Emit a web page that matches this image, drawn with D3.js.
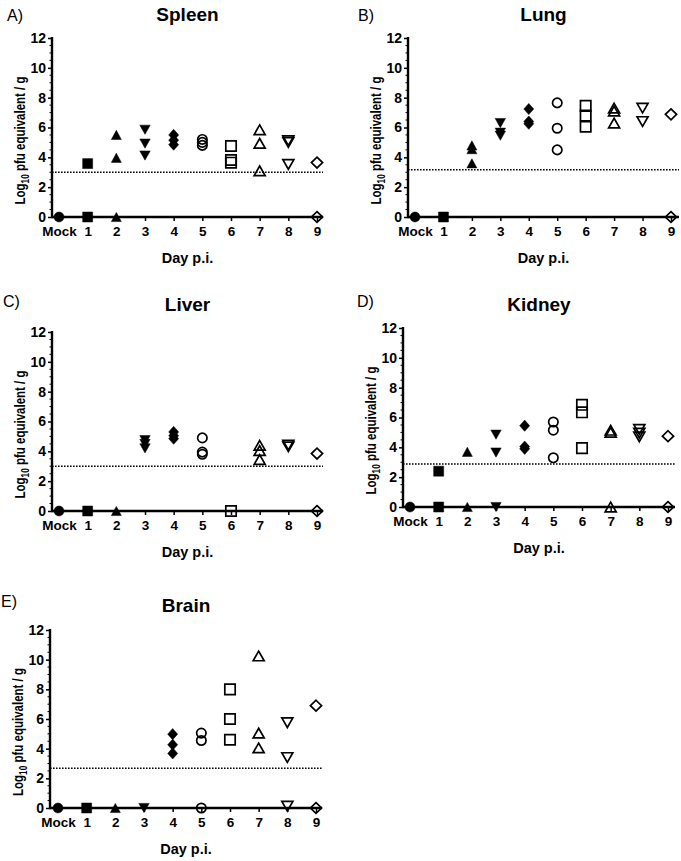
<!DOCTYPE html>
<html>
<head>
<meta charset="utf-8">
<script src="https://cdn.jsdelivr.net/npm/d3@7"></script>
<style>
  html, body { margin: 0; padding: 0; background: #fff; }
  svg { display: block; }
  text { font-family: "Liberation Sans", Arial, sans-serif; fill: #000; }
</style>
</head>
<body>
<svg id="chart" width="681" height="861"></svg>
<script>
// ---------------- data ----------------
const categories = ["Mock", "1", "2", "3", "4", "5", "6", "7", "8", "9"];
const yTicks = [0, 2, 4, 6, 8, 10, 12];
const organs = ["Spleen", "Lung", "Liver", "Kidney", "Brain"];
const panelLetters = ["A)", "B)", "C)", "D)", "E)"];
const detectionLimits = [3.0, 3.17, 3.0, 2.88, 2.68];

// values per day (Mock, 1..9), log10 pfu equivalent / g
const spleen = [[0], [0, 3.58], [0, 3.97, 5.5], [4.12, 4.92, 5.85], [4.85, 5.15, 5.5],
  [4.8, 5.0, 5.2], [3.64, 3.82, 4.76], [3.1, 4.94, 5.85], [3.52, 5.0, 5.12], [0, 3.65]];
const lung = [[0], [0], [3.6, 4.55, 4.8], [5.45, 5.65, 6.3], [6.25, 6.4, 7.24],
  [4.5, 5.95, 7.65], [6.05, 6.8, 7.45], [6.3, 7.1, 7.3], [6.4, 7.3], [0, 6.88]];
const liver = [[0], [0], [0], [4.2, 4.5, 4.75], [4.85, 5.05, 5.3],
  [3.8, 3.95, 4.9], [0], [3.45, 4.05, 4.4], [4.3, 4.42], [0, 3.85]];
const kidney = [[0], [0, 2.4], [0, 3.7], [0, 3.65, 4.85], [3.9, 4.05, 5.45],
  [3.3, 5.15, 5.7], [3.95, 6.35, 6.85], [0, 5.0, 5.15], [4.7, 4.95, 5.2], [0, 4.75]];
const brain = [[0], [0], [0], [0], [3.68, 4.27, 4.98],
  [0, 4.55, 5.05], [4.6, 6.0, 8.0], [4.05, 5.05, 10.25], [0.12, 3.4, 5.75], [0, 6.9]];
const organData = [spleen, lung, liver, kidney, brain];

// marker per category
const markerShapes = ["circle", "square", "triUp", "triDown", "diamond",
  "circle", "square", "triUp", "triDown", "diamond"];
const markerFilled = [true, true, true, true, true, false, false, false, false, false];

// ---------------- layout ----------------
const layout = [
  { left: 52,  top: 38,  bottom: 217, first: 59,  last: 317, end: 323, letterX: 7,   letterY: 21,  titleY: 21 },
  { left: 408, top: 38,  bottom: 217, first: 415, last: 671, end: 679, letterX: 358, letterY: 21,  titleY: 21 },
  { left: 52,  top: 332, bottom: 511, first: 59,  last: 317, end: 323, letterX: 3,   letterY: 307, titleY: 311 },
  { left: 403, top: 328, bottom: 507, first: 410, last: 668, end: 675, letterX: 357, letterY: 307, titleY: 311 },
  { left: 50,  top: 630, bottom: 808, first: 58,  last: 316, end: 322, letterX: 1,   letterY: 607, titleY: 612 }
];

function shapePath(shape, filled) {
  if (shape === "circle") {
    const r = filled ? 5 : 4.7;
    return `M${-r},0A${r},${r} 0 1,0 ${r},0A${r},${r} 0 1,0 ${-r},0Z`;
  }
  if (shape === "square") {
    const h = filled ? 5 : 5.2;
    return `M${-h},${-h}H${h}V${h}H${-h}Z`;
  }
  if (shape === "triUp") {
    const w = filled ? 5 : 5.5, h = filled ? 4.6 : 4.8;
    return `M0,${-h}L${w},${h}L${-w},${h}Z`;
  }
  if (shape === "triDown") {
    const w = filled ? 5.2 : 5.5, h = filled ? 4.6 : 4.8;
    return `M0,${h}L${w},${-h}L${-w},${-h}Z`;
  }
  // diamond
  const w = filled ? 5 : 5.6, h = filled ? 5.6 : 5.4;
  return `M0,${-h}L${w},0L0,${h}L${-w},0Z`;
}

const svg = d3.select("#chart");

organs.forEach((organ, pi) => {
  const L = layout[pi];
  const g = svg.append("g");
  const x = d3.scalePoint().domain(categories).range([L.first, L.last]);
  const y = d3.scaleLinear().domain([0, 12]).range([L.bottom, L.top]);

  // panel letter & title
  g.append("text").attr("x", L.letterX).attr("y", L.letterY)
    .attr("font-size", 16).text(panelLetters[pi]);
  g.append("text").attr("x", (L.left + L.end) / 2).attr("y", L.titleY)
    .attr("text-anchor", "middle").attr("font-size", 19).attr("font-weight", "bold")
    .text(organ);

  // detection limit
  g.append("line")
    .attr("x1", L.left).attr("x2", L.end)
    .attr("y1", y(detectionLimits[pi])).attr("y2", y(detectionLimits[pi]))
    .attr("stroke", "#000").attr("stroke-width", 1.6)
    .attr("stroke-dasharray", "1.6,1.4");

  // y axis
  const yAxis = d3.axisLeft(y).tickValues(yTicks).tickSize(4).tickPadding(2)
    .tickFormat(d3.format("d"));
  const ya = g.append("g").attr("transform", `translate(${L.left},0)`).call(yAxis);
  ya.select(".domain").remove();
  ya.selectAll(".tick line").attr("stroke", "#000").attr("stroke-width", 1.5);
  ya.selectAll(".tick text").attr("font-size", 14).attr("font-weight", "bold")
    .attr("font-family", '"Liberation Sans", Arial, sans-serif').attr("fill", "#000");
  // minor ticks
  const minor = d3.range(0, 12.01, 0.5).filter(v => !yTicks.includes(v));
  g.append("g").selectAll("line").data(minor).join("line")
    .attr("x1", L.left - 2.5).attr("x2", L.left)
    .attr("y1", d => y(d)).attr("y2", d => y(d))
    .attr("stroke", "#000").attr("stroke-width", 1);
  g.append("line").attr("x1", L.left).attr("x2", L.left)
    .attr("y1", y(12) - 1).attr("y2", y(0) + 1.2)
    .attr("stroke", "#000").attr("stroke-width", 2.4);

  // x axis
  const xAxis = d3.axisBottom(x).tickSize(4).tickPadding(5);
  const xa = g.append("g").attr("transform", `translate(0,${L.bottom})`).call(xAxis);
  xa.select(".domain").remove();
  xa.selectAll(".tick line").attr("stroke", "#000").attr("stroke-width", 1.5);
  xa.selectAll(".tick text").attr("font-size", 13.5).attr("font-weight", "bold")
    .attr("font-family", '"Liberation Sans", Arial, sans-serif').attr("fill", "#000");
  g.append("line").attr("x1", L.left).attr("x2", L.end)
    .attr("y1", L.bottom).attr("y2", L.bottom)
    .attr("stroke", "#000").attr("stroke-width", 2.4);

  // axis titles
  g.append("text").attr("x", (L.left + L.end) / 2).attr("y", L.bottom + 46)
    .attr("text-anchor", "middle").attr("font-size", 14.5).attr("font-weight", "bold")
    .text("Day p.i.");
  const yl = g.append("text")
    .attr("transform", `translate(${L.left - 27},${(L.top + L.bottom) / 2 + 13}) rotate(-90)`)
    .attr("text-anchor", "middle").attr("font-size", 14).attr("font-weight", "bold")
    .attr("textLength", 128).attr("lengthAdjust", "spacingAndGlyphs");
  yl.append("tspan").text("Log");
  yl.append("tspan").attr("font-size", 10).attr("dy", 4).text("10");
  yl.append("tspan").attr("dy", -4).text(" pfu equivalent / g");

  // points
  const pts = [];
  organData[pi].forEach((vals, ci) => vals.forEach(v => pts.push({ ci, v })));
  g.append("g").selectAll("path").data(pts).join("path")
    .attr("transform", d => `translate(${x(categories[d.ci])},${y(d.v)})`)
    .attr("d", d => shapePath(markerShapes[d.ci], markerFilled[d.ci]))
    .attr("fill", d => markerFilled[d.ci] ? "#000" : "none")
    .attr("stroke", "#000")
    .attr("stroke-width", d => markerFilled[d.ci] ? 0.5 : 1.7)
    .attr("stroke-linejoin", "miter");
});
</script>
</body>
</html>
